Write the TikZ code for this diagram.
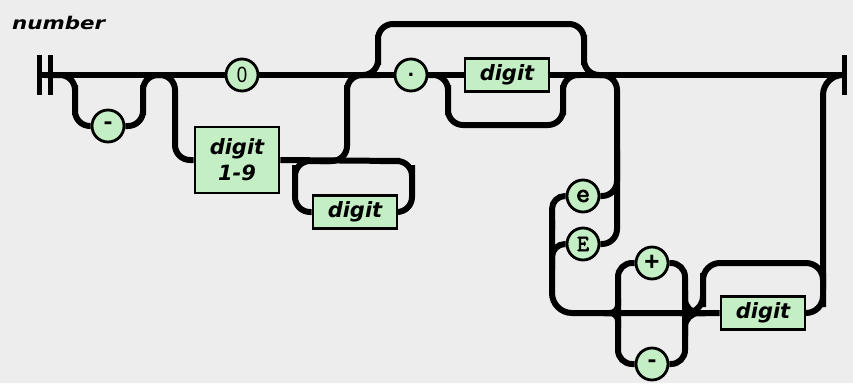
\documentclass[tikz,border=0pt]{standalone}
\usepackage{fontspec}
\newfontfamily\labelsans{DejaVu Sans}
\newfontfamily\railmono{Liberation Mono}
\newfontfamily\railtt{Latin Modern Mono}[AutoFakeBold=3]
\newfontfamily\plainsans{Liberation Sans}
\definecolor{termgreen}{RGB}{196,238,196}
\definecolor{paper}{RGB}{237,237,237}
\pgfdeclarelayer{rails}
\pgfsetlayers{rails,main}
\begin{document}
\begin{tikzpicture}[x=1pt,y=-1pt,
  rail/.style={line width=6pt, rounded corners=15pt},
  endbar/.style={line width=5pt},
  term/.style={circle, draw, line width=2.8pt, fill=termgreen,
    minimum size=32pt, inner sep=0pt},
  nonterm/.style={rectangle, draw, line width=2.8pt, fill=termgreen,
    minimum width=84pt, minimum height=33pt, inner sep=0pt, align=center,
    font=\labelsans\bfseries\itshape\fontsize{21}{26}\selectfont},
  monolbl/.style={font=\railmono\bfseries\fontsize{#1}{#1}\selectfont},
  ttlbl/.style={font=\railtt\bfseries\fontsize{#1}{#1}\selectfont}]
\useasboundingbox (0,0) rectangle (853,383);

% title
\node[anchor=base west, inner sep=0pt,
  font=\labelsans\bfseries\itshape\fontsize{17.5}{20}\selectfont] (title) at (12,29)
  {\scalebox{1.22}[1]{number}};

% end points of the main track
\coordinate (start) at (39,75);
\coordinate (end) at (844,75);

% terminals
\node[term, monolbl=24] (minusA) at (108,126) {-};
\node[term, font=\plainsans\fontsize{22}{22}\selectfont] (zero) at (242,75) {\scalebox{0.85}[1]{0}};
\node[term, monolbl=22] (dot) at (411,75) {.};
\node[term, ttlbl=27] (ee) at (583,196) {e};
\node[term, ttlbl=23] (EE) at (583,244) {E};
\node[term, monolbl=26] (plus) at (652,263) {+};
\node[term, monolbl=24] (minusB) at (652,364) {-};

% non-terminals
\node[nonterm] (digitA) at (507,75) {digit};
\node[nonterm, minimum height=66pt] (onenine) at (237,160) {digit\\1-9};
\node[nonterm] (digitB) at (355,212) {digit};
\node[nonterm] (digitC) at (763,313) {digit};

\begin{pgfonlayer}{rails}
  \fill[paper] (0,0) rectangle (853,383);

  % main track with its end bars
  \draw[rail] (start) -- (end);
  \draw[endbar] (39,55) -- (39,95);
  \draw[endbar] (50,55) -- (50,95);
  \draw[endbar] (844,55) -- (844,95);

  % optional leading minus
  \draw[rail] (45,75) -| (75,100) |- (minusA.west);
  \draw[rail] (minusA.east) -| (143,100) |- (170,75);

  % zero or digit 1-9 followed by digits
  \draw[rail] (150,75) -| (175,120) |- (onenine.west);
  \draw[rail] (onenine.east) -- (400,161);
  \draw[rail] (digitB.west) -| (295,180) |- (330,161);
  \draw[rail] (digitB.east) -| (412,180) |- (380,161);
  \draw[rail] (320,161) -| (347,100) |- (380,75);

  % optional fraction
  \draw[rail] (355,75) -| (378,50) |- (500,24) -| (584,50) |- (610,75);
  \draw[rail] (430,75) -| (448,100) |- (500,125) -| (563,100) |- (580,75);

  % optional exponent
  \draw[rail] (590,75) -| (617,150) |- (ee.east);
  \draw[rail] (617,150) |- (EE.east);
  \draw[rail, rounded corners=13pt] (ee.west) -| (552,230);
  \draw[rail, rounded corners=13pt] (EE.west) -| (552,270);
  \draw[rail, rounded corners=20pt] (552,220) |- (digitC.west);

  % optional sign
  \draw[rail, rounded corners=14pt] (plus.west) -| (618,300) |- (minusB.west);
  \draw[rail, rounded corners=14pt] (plus.east) -| (685,300) |- (minusB.east);
  \draw[rail, rounded corners=8pt] (604,313) -| (618,298);
  \draw[rail, rounded corners=8pt] (604,313) -| (618,328);
  \draw[rail, rounded corners=14pt] (685,290) |- (705,313);
  \draw[rail, rounded corners=14pt] (685,336) |- (705,313);

  % exponent digits
  \draw[rail, rounded corners=17pt] (680,313) -| (703,290) |- (760,263) -| (823,290) |- (digitC.east);
  \draw[rail, rounded corners=20pt] (823,290) |- (end);
\end{pgfonlayer}
\end{tikzpicture}
\end{document}
